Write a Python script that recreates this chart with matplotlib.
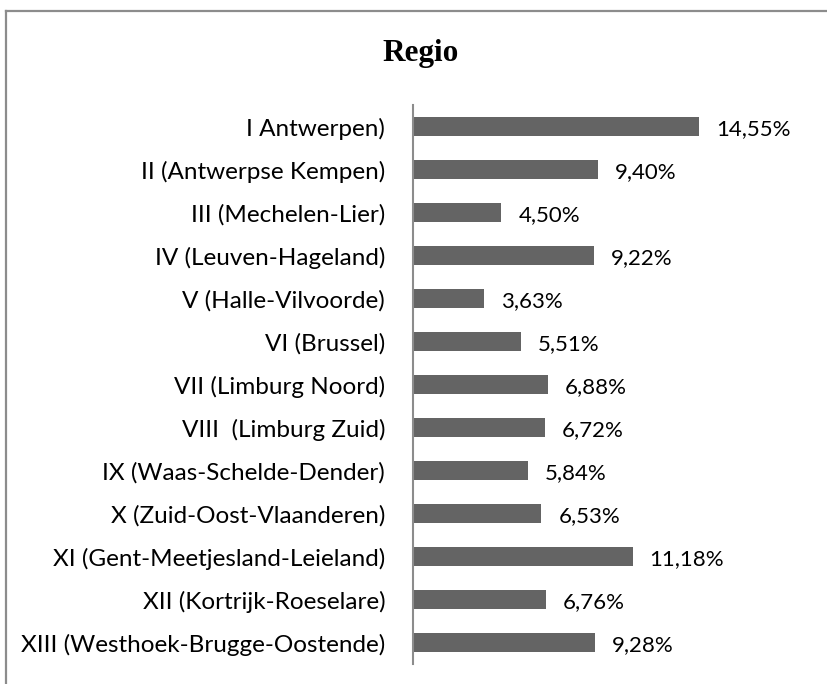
import matplotlib
matplotlib.use("Agg")
import matplotlib.pyplot as plt
from matplotlib.lines import Line2D

categories = [
    "I Antwerpen)",
    "II (Antwerpse Kempen)",
    "III (Mechelen-Lier)",
    "IV (Leuven-Hageland)",
    "V (Halle-Vilvoorde)",
    "VI (Brussel)",
    "VII (Limburg Noord)",
    "VIII  (Limburg Zuid)",
    "IX (Waas-Schelde-Dender)",
    "X (Zuid-Oost-Vlaanderen)",
    "XI (Gent-Meetjesland-Leieland)",
    "XII (Kortrijk-Roeselare)",
    "XIII (Westhoek-Brugge-Oostende)",
]
values = [14.55, 9.40, 4.50, 9.22, 3.63, 5.51, 6.88, 6.72, 5.84, 6.53, 11.18, 6.76, 9.28]
title = "Regio"

W, H = 828, 684
fig = plt.figure(figsize=(W / 100, H / 100), dpi=100)

# plot area in pixels: axis line at x=413, categories from y=105 to y=664
x0, x_per_pct, xmax = 413, 19.65, 16
ax = fig.add_axes([x0 / W, (H - 664) / H, xmax * x_per_pct / W, 559 / H])

ypos = list(range(len(categories)))
ax.barh(ypos, values, height=0.465, color="#646464")
ax.set_ylim(len(categories) - 0.5, -0.5)
ax.set_xlim(0, xmax)

for y, v in zip(ypos, values):
    ax.annotate(f"{v:.2f}%".replace(".", ","), (v, y), xytext=(12.2, -1.8),
                textcoords="offset points", ha="left", va="center",
                fontsize=16, family="Lato", color="#000000", clip_on=False)

ax.set_yticks(ypos)
ax.set_yticklabels(categories, fontsize=17.5, family="Lato")
ax.tick_params(axis="y", length=0, pad=20)
ax.set_xticks([])
for side in ["top", "right", "bottom"]:
    ax.spines[side].set_visible(False)
ax.spines["left"].set_color("#8c8c8c")
ax.spines["left"].set_linewidth(1.5)

fig.text(421 / W, 1 - 53 / H, title, ha="center", va="center",
         fontsize=22.5, fontweight="bold", family="Liberation Serif")

# chart border (only top and left edges visible)
fig.add_artist(Line2D([6 / W, 6 / W], [0, 1 - 11 / H], transform=fig.transFigure,
                      color="#8c8c8c", linewidth=1.6))
fig.add_artist(Line2D([6 / W, 1], [1 - 11 / H, 1 - 11 / H], transform=fig.transFigure,
                      color="#8c8c8c", linewidth=1.6))

fig.savefig("out.png", dpi=100, facecolor="white")
